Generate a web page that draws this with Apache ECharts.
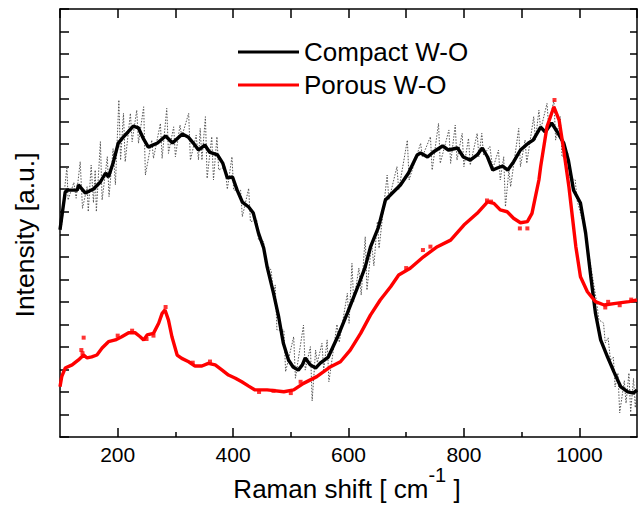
<!DOCTYPE html>
<html><head><meta charset="utf-8">
<script src="https://cdn.jsdelivr.net/npm/echarts/dist/echarts.min.js"></script>
<style>html,body{margin:0;padding:0;background:#fff}#c{width:643px;height:506px}</style>
</head><body><div id="c"></div>
<script>
// x tick labels and minor tick positions (Raman shift, cm-1)
const xTickLabels = [200, 400, 600, 800, 1000];
const xMinorTicks = [300, 500, 700, 900];

// Compact W-O, smoothed curve [shift, intensity a.u.]
const compactSmooth = [[100,9.2],[109,10.87],[113,10.96],[130,10.96],[132,11.19],[144,10.83],[158,11.01],[170,11.32],[179,11.72],[184,11.54],[192,12.16],[201,13.05],[210,13.32],[218,13.54],[227,13.80],[236,13.72],[244,13.27],[253,12.87],[269,13.05],[283,13.36],[295,13.05],[312,13.45],[322,13.32],[331,13.05],[340,12.74],[351,12.96],[359,12.65],[373,12.52],[382,12.16],[390,11.50],[399,11.54],[407,10.96],[416,10.43],[427,10.21],[435,9.94],[444,9.05],[453,8.39],[459,7.55],[470,6.39],[479,5.33],[487,4.17],[496,3.42],[504,3.11],[513,2.97],[520,3.20],[525,3.51],[534,3.20],[543,3.06],[551,3.28],[565,3.55],[581,4.44],[598,5.50],[616,6.66],[629,7.55],[638,8.43],[652,9.32],[664,10.52],[676,10.83],[690,11.19],[704,11.72],[719,12.52],[725,12.61],[737,12.43],[747,12.65],[763,12.92],[773,12.74],[789,12.83],[799,12.43],[811,12.29],[823,12.52],[832,12.83],[841,12.43],[850,11.85],[858,11.94],[867,12.03],[876,11.85],[886,12.21],[898,12.74],[912,13.05],[920,13.18],[933,13.76],[941,13.54],[952,13.94],[962,13.54],[973,13.05],[981,12.29],[990,10.96],[1002,10.39],[1011,9.05],[1020,7.10],[1028,5.50],[1037,4.31],[1049,3.55],[1060,2.89],[1072,2.22],[1084,2.00],[1094,1.95],[1100,2.09]];

// Compact W-O, raw (noisy) spectrum
const compactRaw = [[100,9.0],[104,9.6],[108,11.0],[112,12.0],[114,10.52],[124,11.3],[128,10.6],[135,12.22],[139,10.15],[147,11.11],[149,10.0],[154,12.07],[158,10.4],[161,11.85],[163,10.0],[170,13.11],[173,10.52],[182,12.44],[185,10.67],[192,12.8],[196,11.2],[202,14.96],[205,12.29],[210,14.37],[213,12.22],[222,14.37],[225,13.11],[233,14.51],[236,13.04],[245,14.66],[248,11.63],[259,13.18],[262,12.37],[274,13.92],[277,12.37],[285,14.59],[288,12.59],[297,13.77],[300,12.44],[308,13.85],[311,13.33],[323,14.37],[326,12.29],[336,13.4],[340,12.3],[343,13.70],[346,12.29],[352,14.22],[355,11.48],[363,13.33],[366,11.41],[372,13.33],[375,11.85],[386,12.0],[390,11.0],[398,12.44],[401,10.96],[413,10.96],[416,9.78],[427,11.04],[430,9.56],[441,9.63],[444,8.74],[453,8.67],[456,7.78],[466,7.4],[470,6.3],[473,6.75],[476,4.75],[488,4.75],[491,2.90],[505,4.45],[508,2.61],[522,4.97],[525,2.97],[534,4.01],[537,1.6],[543,3.86],[546,3.3],[554,4.16],[557,2.97],[563,4.31],[566,2.45],[580,5.0],[584,4.2],[598,6.38],[601,5.05],[606,7.71],[609,6.01],[618,7.5],[622,6.3],[629,8.89],[632,6.52],[640,8.6],[644,7.6],[650,9.56],[653,8.38],[667,11.63],[670,10.52],[684,12.0],[687,10.96],[702,13.18],[705,11.41],[725,13.04],[728,12.44],[742,13.33],[745,11.85],[756,13.92],[759,12.15],[774,13.63],[777,12.15],[785,13.85],[788,12.29],[797,13.48],[800,12.0],[808,13.26],[811,12.07],[823,13.48],[826,12.44],[831,13.48],[834,12.52],[845,12.9],[850,11.9],[860,12.74],[863,11.41],[869,12.44],[872,10.22],[878,11.85],[881,11.11],[895,13.70],[898,12.0],[906,13.18],[909,12.15],[921,14.22],[924,13.18],[930,14.51],[933,13.63],[944,14.81],[947,13.77],[956,14.96],[959,13.18],[967,14.22],[970,12.44],[980,12.6],[984,11.5],[993,11.41],[996,10.52],[1010,9.2],[1014,8.5],[1030,6.0],[1034,5.2],[1042,5.06],[1045,4.17],[1050,4.4],[1054,3.4],[1059,3.55],[1062,2.22],[1067,2.84],[1070,1.07],[1078,2.5],[1081,1.5],[1086,2.84],[1089,1.1],[1094,2.6],[1097,1.3],[1100,2.2]];

// Porous W-O, smoothed curve
const porousSmooth = [[100,2.23],[103,2.68],[109,3.06],[121,3.20],[132,3.42],[141,3.64],[147,3.51],[155,3.56],[164,3.64],[173,3.95],[184,4.23],[196,4.31],[207,4.45],[219,4.63],[230,4.63],[239,4.45],[245,4.31],[251,4.53],[262,4.60],[271,5.05],[277,5.49],[282,5.64],[288,5.19],[294,4.45],[303,3.64],[311,3.49],[323,3.34],[334,3.15],[346,3.15],[357,3.27],[369,3.20],[381,2.97],[392,2.75],[404,2.61],[415,2.45],[427,2.26],[438,2.09],[459,2.09],[488,2.01],[505,2.09],[522,2.38],[545,2.68],[569,3.12],[586,3.34],[603,3.86],[621,4.60],[638,5.41],[655,6.08],[673,6.67],[687,7.19],[707,7.49],[730,8.00],[754,8.45],[777,8.74],[800,9.41],[823,9.93],[841,10.44],[852,10.37],[863,10.08],[875,10.00],[886,9.71],[898,9.51],[910,9.56],[918,9.93],[924,10.67],[930,11.41],[933,12.00],[944,13.77],[956,14.66],[965,14.07],[973,12.74],[982,11.11],[988,9.78],[994,8.45],[1002,7.11],[1014,6.45],[1028,6.01],[1043,5.86],[1063,5.93],[1086,6.01],[1100,6.08]];

// Porous W-O, raw points lying off the smoothed curve
const porousRaw = [[137,3.86],[139,3.72],[141,4.41],[200,4.5],[225,4.72],[250,4.35],[262,4.5],[283,5.77],[330,3.3],[360,3.35],[445,2.0],[470,2.05],[500,1.95],[517,2.45],[700,7.5],[729,8.30],[742,8.45],[840,10.5],[847,10.45],[897,9.26],[910,9.26],[957,14.96],[1045,5.75],[1050,6.0],[1070,5.85],[1090,6.1]];

const seriesNames = ['Compact W-O', 'Porous W-O'];
const xTitle = '{n|Raman shift [ cm}{s|-1}{n| ]}';
const yTitle = 'Intensity [a.u.]';

const FONT = '"Liberation Sans", Arial, Helvetica, sans-serif';
const chart = echarts.init(document.getElementById('c'), null, {renderer: 'svg'});
const axisLine = {show: true, lineStyle: {color: '#000', width: 1.5}};
const tickStyle = {color: '#000', width: 1.5};
chart.setOption({
  animation: false,
  backgroundColor: '#fff',
  grid: {left: 60, right: 6, top: 9, bottom: 69, containLabel: false, outerBoundsMode: 'none'},
  legend: {
    data: seriesNames, orient: 'vertical', left: 233, top: 33, padding: 5,
    itemWidth: 61, itemHeight: 3, itemGap: 5, icon: 'rect',
    textStyle: {fontSize: 26, fontFamily: FONT, color: '#000', lineHeight: 28}
  },
  graphic: [{
    type: 'text', x: 347, y: 483, silent: true,
    style: {
      text: xTitle, align: 'center', verticalAlign: 'middle',
      rich: {
        n: {fontSize: 26, fontFamily: FONT, fill: '#000', lineHeight: 37, verticalAlign: 'bottom'},
        s: {fontSize: 20, fontFamily: FONT, fill: '#000', lineHeight: 15, verticalAlign: 'top'}
      }
    }
  }],
  xAxis: [
    {type: 'value', position: 'bottom', min: 100, max: 1100, interval: 100,
     axisLine: axisLine,
     axisTick: {inside: true, length: 9, customValues: xTickLabels, lineStyle: tickStyle},
     axisLabel: {customValues: xTickLabels, fontSize: 21, color: '#000', margin: 7, fontFamily: FONT,
                 formatter: v => String(v)},
     splitLine: {show: false}},
    {type: 'value', position: 'bottom', offset: 0, min: 100, max: 1100, interval: 100,
     axisLine: {show: false},
     axisTick: {inside: true, length: 5, customValues: xMinorTicks, lineStyle: tickStyle},
     axisLabel: {show: false}, splitLine: {show: false}},
    {type: 'value', position: 'top', min: 100, max: 1100, interval: 100,
     axisLine: axisLine,
     axisTick: {inside: true, length: 9, lineStyle: tickStyle},
     axisLabel: {show: false}, splitLine: {show: false}}
  ],
  yAxis: [
    {type: 'value', position: 'left', min: 0, max: 19, interval: 1,
     axisLine: axisLine,
     axisTick: {inside: true, length: 9, lineStyle: tickStyle},
     axisLabel: {show: false}, splitLine: {show: false},
     name: yTitle, nameLocation: 'middle', nameGap: 22,
     nameTextStyle: {fontSize: 26.5, fontFamily: FONT, color: '#000', padding: [0, 24, 0, 0]}},
    {type: 'value', position: 'right', min: 0, max: 19, interval: 1,
     axisLine: axisLine,
     axisTick: {inside: true, length: 7, lineStyle: tickStyle},
     axisLabel: {show: false}, splitLine: {show: false}}
  ],
  series: [
    {name: 'raw compact', type: 'line', data: compactRaw, symbol: 'none', silent: true, z: 1,
     lineStyle: {color: '#555', width: 1, type: [1.5, 1.5]}},
    {name: seriesNames[0], type: 'line', data: compactSmooth, symbol: 'none', z: 3,
     itemStyle: {color: '#000'}, lineStyle: {color: '#000', width: 3.4}},
    {name: seriesNames[1], type: 'line', data: porousSmooth, symbol: 'none', z: 4,
     itemStyle: {color: '#ff0000'}, lineStyle: {color: '#ff0000', width: 3.4}},
    {name: 'raw porous', type: 'scatter', data: porousRaw, symbol: 'rect', symbolSize: 4, z: 5, silent: true,
     itemStyle: {color: '#ff0000'}}
  ]
});
</script></body></html>
